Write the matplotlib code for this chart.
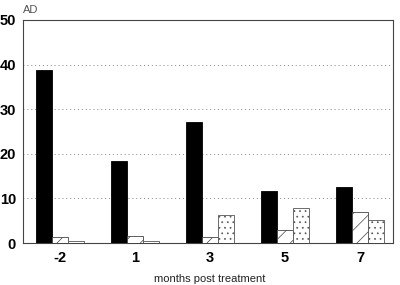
import numpy as np
import matplotlib.pyplot as plt

plt.rcParams['font.family'] = ['Liberation Sans', 'DejaVu Sans']
plt.rcParams['hatch.linewidth'] = 0.5

# Data
months = ['-2', '1', '3', '5', '7']
solid = [38.7, 18.5, 27.2, 11.7, 12.5]
hatched = [1.4, 1.6, 1.4, 2.9, 6.9]
dotted = [0.4, 0.4, 6.3, 7.9, 5.2]

fig = plt.figure(figsize=(4.0, 2.85), dpi=100)
ax = fig.add_axes([0.0575, 0.147, 0.925, 0.783])

x = np.arange(len(months))
w = 0.215
ax.bar(x - w, solid, w, color='black', edgecolor='black', linewidth=0.6, zorder=3)
ax.bar(x, hatched, w, color='white', edgecolor='#444444', hatch='//', linewidth=0.6, zorder=3)
ax.bar(x + w, dotted, w, color='white', edgecolor='#555555', hatch='...', linewidth=0.6, zorder=3)

ax.set_xlim(-0.49, 4.44)
ax.set_ylim(0, 50)
ax.set_yticks([0, 10, 20, 30, 40, 50])
ax.set_xticks(x)
ax.set_xticklabels(months)
ax.tick_params(length=0, labelsize=10.5)
ax.tick_params(axis='x', pad=6)
ax.tick_params(axis='y', pad=5)
for lab in ax.get_xticklabels() + ax.get_yticklabels():
    lab.set_fontweight('bold')

ax.grid(axis='y', linestyle=(0, (1, 3)), color='#888888', linewidth=0.7, zorder=0)
for s in ax.spines.values():
    s.set_linewidth(0.8)
    s.set_color('#444444')

fig.text(0.525, 0.005, 'months post treatment', fontsize=8, color='#222222',
         ha='center', va='bottom')
fig.text(0.057, 0.955, 'AD', fontsize=8, color='#555555')

fig.savefig('out.png', dpi=100)
